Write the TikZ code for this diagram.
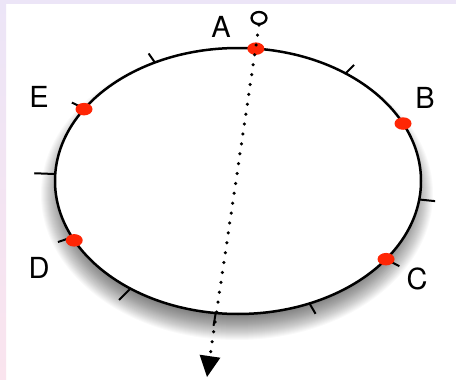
\documentclass[tikz,border=0pt]{standalone}
\usepackage{fontspec}
\setmainfont{TeX Gyre Heros}
\usetikzlibrary{shapes.geometric,calc}
\definecolor{lav}{RGB}{236,229,247}
\definecolor{pinkish}{RGB}{250,228,238}
\definecolor{dotred}{RGB}{255,38,5}
\tikzset{
  ringline/.style={line width=2.5pt, draw=black},
  tickline/.style={line width=2pt, draw=black},
  reddot/.style={ellipse, fill=dotred, draw=none, minimum width=17pt, minimum height=12.5pt, inner sep=0pt},
  lbl/.style={font=\fontsize{29}{33}\selectfont, inner sep=0pt, text=black},
  dotpath/.style={line width=3.5pt, line cap=round, dash pattern=on 0pt off 10pt},
}
\begin{document}
\begin{tikzpicture}[x=1pt,y=-1pt]
\useasboundingbox (0,0) rectangle (456,380);
\fill[white] (0,0) rectangle (456,380);
\shade[top color=lav, bottom color=pinkish] (0,0) rectangle (6,380);
\fill[lav] (6,0) rectangle (456,4);
% shadow
\foreach \i in {0,...,29}{
  \fill[black, opacity=0.022] (237,194) ellipse [x radius={183+13-\i}, y radius={133+13-\i}];
}
% ring
\coordinate (c) at (238,181);
\draw[ringline, fill=white] (c) ellipse [x radius=183, y radius=133];
% ticks
\foreach \t/\L in {147/14, 117/11, 54/12, -8/16, -36/15, -67/12, -97/13, -126/16, -155/15, 177/21}{
  \coordinate (p) at ({238+183*cos(\t)},{181-133*sin(\t)});
  \draw[tickline] (p) -- ($(p)!-\L pt!(c)$);
}
% red dots
\node[reddot] (A) at ({238+183*cos(84.4)},{181-133*sin(84.4)}) {};
\node[reddot] (B) at ({238+183*cos(25.6)},{181-133*sin(25.6)}) {};
\node[reddot] (C) at ({238+183*cos(-36)},{181-133*sin(-36)}) {};
\node[reddot] (D) at ({238+183*cos(-153.5)},{181-133*sin(-153.5)}) {};
\node[reddot] (E) at ({238+183*cos(147.3)},{181-133*sin(147.3)}) {};
% labels
\node[lbl] (lA) at (221,27) {A};
\node[lbl] (lB) at (425,98) {B};
\node[lbl] (lC) at (417,279) {C};
\node[lbl] (lD) at (39,268) {D};
\node[lbl] (lE) at (39,97) {E};
% line of sight
\node[ellipse, draw, line width=2.3pt, minimum width=15pt, minimum height=12pt, inner sep=0pt] (O) at (259,18) {};
\coordinate (tip) at (207,377);
\coordinate (base) at ($(tip)!21pt!(O)$);
\draw[dotpath] (O.south) -- (base);
\fill[black] (tip) -- ($(base)!10.5pt!90:(tip)$) -- ($(base)!10.5pt!-90:(tip)$) -- cycle;
\end{tikzpicture}
\end{document}
